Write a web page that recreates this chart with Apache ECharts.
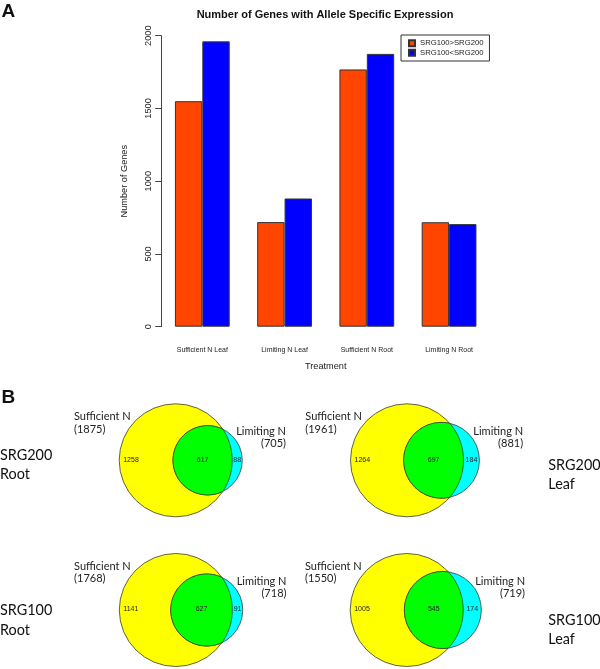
<!DOCTYPE html>
<html><head><meta charset="utf-8">
<script src="https://cdn.jsdelivr.net/npm/echarts@6/dist/echarts.min.js"></script>
<style>html,body{margin:0;padding:0;background:#fff}#c{width:600px;height:669px}</style>
</head><body><div id="c"></div>
<script>
// ---- data ----
const categories = ['Sufficient N Leaf', 'Limiting N Leaf', 'Sufficient N Root', 'Limiting N Root'];
const seriesNames = ['SRG100>SRG200', 'SRG100<SRG200'];
const srg100Higher = [1550, 719, 1768, 718];
const srg100Lower = [1961, 881, 1875, 705];
const yTicks = [0, 500, 1000, 1500, 2000];

const vennTitles = [['SRG200', 'Root'], ['SRG200', 'Leaf'], ['SRG100', 'Root'], ['SRG100', 'Leaf']];
const setNames = ['Sufficient N', 'Limiting N'];
const sufficientTotals = [1875, 1961, 1768, 1550];
const limitingTotals = [705, 881, 718, 719];
const sharedCounts = [617, 697, 627, 545];
const sufficientOnly = [1258, 1264, 1141, 1005];
const limitingOnly = [88, 184, 91, 174];

// ---- layout ----
const FONT = 'Liberation Sans, Arial, sans-serif';
const VFONT = 'Lato, Open Sans, sans-serif';
const R = 56.5;
const vennCenters = [[175.7, 460.3], [407, 460.3], [175.8, 610], [406.7, 610]];
const titlePos = [[0, 455, 'left'], [548.3, 465, 'left'], [0, 610.7, 'left'], [548.3, 620, 'left']];

function lensArea(r1, r2, d) {
  if (d >= r1 + r2) return 0;
  if (d <= Math.abs(r1 - r2)) return Math.PI * Math.min(r1, r2) ** 2;
  const a = r1 * r1 * Math.acos((d * d + r1 * r1 - r2 * r2) / (2 * d * r1));
  const b = r2 * r2 * Math.acos((d * d + r2 * r2 - r1 * r1) / (2 * d * r2));
  const c = 0.5 * Math.sqrt((-d + r1 + r2) * (d + r1 - r2) * (d - r1 + r2) * (d + r1 + r2));
  return a + b - c;
}

function renderVenn(params, api) {
  const A = api.value(2), B = api.value(3), AB = api.value(4), oA = api.value(5), oB = api.value(6);
  const r1 = 1, r2 = Math.sqrt(B / A);
  const target = Math.PI * r1 * r1 * AB / A;
  let lo = Math.abs(r1 - r2) + 1e-9, hi = r1 + r2;
  for (let k = 0; k < 60; k++) {
    const m = (lo + hi) / 2;
    if (lensArea(r1, r2, m) > target) lo = m; else hi = m;
  }
  const d = (lo + hi) / 2;
  const c1 = api.coord([0, 0]), c2 = api.coord([d, 0]);
  const unit = api.size([1, 1])[0];
  const xi = (d * d + r1 * r1 - r2 * r2) / (2 * d);
  const yi = Math.sqrt(Math.max(0, r1 * r1 - xi * xi));
  const alpha = Math.atan2(yi, xi), beta = Math.atan2(yi, xi - d);
  const pts = [];
  const N = 90;
  for (let k = 0; k <= N; k++) {
    const t = alpha - 2 * alpha * k / N;
    pts.push(api.coord([r1 * Math.cos(t), r1 * Math.sin(t)]));
  }
  for (let k = 0; k <= N; k++) {
    const t = 2 * Math.PI - beta - (2 * Math.PI - 2 * beta) * k / N;
    pts.push(api.coord([d + r2 * Math.cos(t), r2 * Math.sin(t)]));
  }
  const stroke = '#3a3a3a';
  const yRight = c1[0] + unit * r1, cLeft = c2[0] - unit * r2, cRight = c2[0] + unit * r2;
  const txt = (text, x, y, align, size, font) => ({
    type: 'text', style: { text: String(text), x, y, align, verticalAlign: 'middle', fill: '#222', fontSize: size, fontFamily: font }
  });
  return {
    type: 'group',
    children: [
      { type: 'circle', shape: { cx: c1[0], cy: c1[1], r: unit * r1 }, style: { fill: '#FFFF00', stroke, lineWidth: 0.8 } },
      { type: 'circle', shape: { cx: c2[0], cy: c2[1], r: unit * r2 }, style: { fill: '#00FFFF', stroke, lineWidth: 0.8 } },
      { type: 'polygon', shape: { points: pts }, style: { fill: '#00FF00', stroke, lineWidth: 0.8 } },
      txt(oA, c1[0] - unit * r1 + 4, c1[1] - 0.5, 'left', 7, FONT),
      txt(AB, (cLeft + yRight) / 2, c1[1] - 0.5, 'center', 7, FONT),
      txt(oB, (yRight + cRight) / 2, c1[1] - 0.5, 'center', 7, FONT),
      txt(setNames[0], c1[0] - 101.7, c1[1] - 43.5, 'left', 11, VFONT),
      txt('(' + A + ')', c1[0] - 101.7, c1[1] - 31.3, 'left', 11, VFONT),
      txt(setNames[1], cRight + 43.7, c1[1] - 28.5, 'right', 11, VFONT),
      txt('(' + B + ')', cRight + 43.7, c1[1] - 16.7, 'right', 11, VFONT)
    ]
  };
}

const grids = [{ left: 161.2, top: 35.7, width: 329, height: 291 }];
const xAxes = [{
  type: 'category', data: categories, gridIndex: 0,
  axisLine: { show: false }, axisTick: { show: false },
  axisLabel: { interval: 0, fontSize: 7, color: '#222', margin: 20, fontFamily: FONT },
  name: 'Treatment', nameLocation: 'middle', nameGap: 35,
  nameTextStyle: { fontSize: 9.2, color: '#222', fontFamily: FONT }
}];
const yAxes = [{
  type: 'value', gridIndex: 0, min: yTicks[0], max: yTicks[yTicks.length - 1], interval: yTicks[1] - yTicks[0],
  axisLine: { show: true, lineStyle: { color: '#444', width: 1 } },
  axisTick: { show: true, length: 6, lineStyle: { color: '#444' } },
  axisLabel: { rotate: 90, fontSize: 9.2, color: '#222', margin: 8, fontFamily: FONT, formatter: v => String(v) },
  splitLine: { show: false },
  name: 'Number of Genes', nameLocation: 'middle', nameRotate: 90, nameGap: 32,
  nameTextStyle: { fontSize: 9.2, color: '#222', fontFamily: FONT }
}];
const series = [
  { type: 'bar', name: seriesNames[0], data: srg100Higher, xAxisIndex: 0, yAxisIndex: 0, barGap: '0%', barCategoryGap: '33.4%',
    itemStyle: { color: '#FF4500', borderColor: '#333', borderWidth: 1 } },
  { type: 'bar', name: seriesNames[1], data: srg100Lower, xAxisIndex: 0, yAxisIndex: 0, barGap: '0%', barCategoryGap: '33.4%',
    itemStyle: { color: '#0000FF', borderColor: '#333', borderWidth: 1 } }
];
const graphics = [
  { type: 'text', x: 325, y: 14.6, style: { text: 'Number of Genes with Allele Specific Expression', fontSize: 11, fontWeight: 'bold', fontFamily: FONT, fill: '#111', align: 'center', verticalAlign: 'middle' } },
  { type: 'text', x: 1.5, y: 11.7, style: { text: 'A', fontSize: 19, fontWeight: 'bold', fontFamily: FONT, fill: '#111', verticalAlign: 'middle' } },
  { type: 'text', x: 1.5, y: 397.5, style: { text: 'B', fontSize: 19, fontWeight: 'bold', fontFamily: FONT, fill: '#111', verticalAlign: 'middle' } }
];

vennCenters.forEach((c, i) => {
  const g = i + 1;
  grids.push({ left: c[0] - 2 * R, top: c[1] - R, width: 4 * R, height: 2 * R });
  xAxes.push({ type: 'value', gridIndex: g, min: -2, max: 2, show: false });
  yAxes.push({ type: 'value', gridIndex: g, min: -1, max: 1, show: false });
  series.push({
    type: 'custom', xAxisIndex: g, yAxisIndex: g, clip: false, silent: true,
    data: [[0, 0, sufficientTotals[i], limitingTotals[i], sharedCounts[i], sufficientOnly[i], limitingOnly[i]]],
    renderItem: renderVenn
  });
  const p = titlePos[i];
  graphics.push({ type: 'text', x: p[0], y: p[1], style: { text: vennTitles[i][0], fontSize: 14.4, fontFamily: VFONT, fill: '#111', verticalAlign: 'middle', align: p[2] } });
  graphics.push({ type: 'text', x: p[0], y: p[1] + 19.3, style: { text: vennTitles[i][1], fontSize: 14.4, fontFamily: VFONT, fill: '#111', verticalAlign: 'middle', align: p[2] } });
});

const chart = echarts.init(document.getElementById('c'), null, { renderer: 'canvas' });
chart.setOption({
  animation: false,
  backgroundColor: '#fff',
  legend: {
    data: seriesNames, left: 401, top: 35, orient: 'vertical', icon: 'rect',
    itemWidth: 6, itemHeight: 6, itemGap: 1,
    padding: [4, 6, 4, 7], borderColor: '#333', borderWidth: 1,
    textStyle: { fontSize: 7.7, color: '#222', fontFamily: FONT, lineHeight: 8.5 }
  },
  grid: grids,
  xAxis: xAxes,
  yAxis: yAxes,
  series: series,
  graphic: graphics
});
</script></body></html>
